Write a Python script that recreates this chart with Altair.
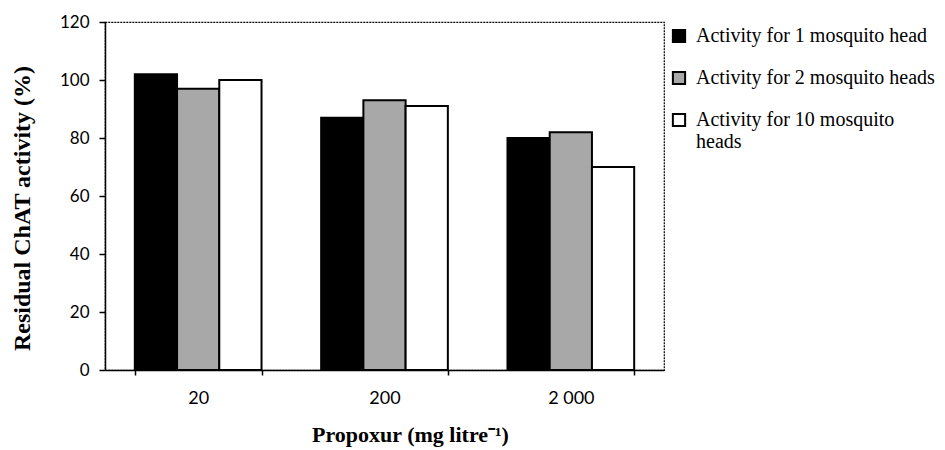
import altair as alt
import pandas as pd

concentrations = ["20", "200", "2 000"]
series = ["Activity for 1 mosquito head", "Activity for 2 mosquito heads", "Activity for 10 mosquito heads"]
one_head = [102, 87, 80]
two_heads = [97, 93, 82]
ten_heads = [100, 91, 70]
colors = ["#000000", "#a8a8a8", "#ffffff"]
y_ticks = [0, 20, 40, 60, 80, 100, 120]

rows = []
for i, c in enumerate(concentrations):
    for s, vals in zip(series, [one_head, two_heads, ten_heads]):
        rows.append({"conc": c, "series": s, "value": vals[i]})
df = pd.DataFrame(rows)

label_expr = "datum.label == 'Activity for 10 mosquito heads' ? ['Activity for 10 mosquito', 'heads'] : datum.label"

chart = alt.Chart(df).mark_bar(stroke="black", strokeWidth=2).encode(
    x=alt.X("conc:N", sort=concentrations,
            scale=alt.Scale(paddingInner=0.32, paddingOuter=0.16),
            axis=alt.Axis(title="Propoxur (mg litre⁻¹)", labelAngle=0, tickBand="extent",
                          domainColor="black", domainWidth=1.5, tickColor="black", tickSize=5,
                          tickWidth=1.5, labelFont="Lato", labelFontSize=18, labelColor="black",
                          labelPadding=14, titleFont="Liberation Serif", titleFontSize=22,
                          titleFontWeight="bold", titleColor="black", titleX=305, titleY=64,
                          titleBaseline="middle", titleAlign="center")),
    xOffset=alt.XOffset("series:N", sort=series, scale=alt.Scale(paddingInner=0, paddingOuter=0)),
    y=alt.Y("value:Q", scale=alt.Scale(domain=[0, 120], nice=False),
            axis=alt.Axis(values=y_ticks, title="Residual ChAT activity (%)", grid=False,
                          domainColor="black", domainWidth=1.5, tickColor="black", tickSize=6,
                          tickWidth=1.5, labelFont="Lato", labelFontSize=17, labelColor="black",
                          labelPadding=10, titleFont="Liberation Serif", titleFontSize=24,
                          titleFontWeight="bold", titleColor="black", titleX=-83, titleY=186,
                          titleAngle=-90, titleBaseline="middle", titleAlign="center")),
    fill=alt.Fill("series:N", sort=series, scale=alt.Scale(domain=series, range=colors),
                  legend=alt.Legend(title=None, orient="none", legendX=564, legendY=4, padding=0,
                                    symbolType="square", symbolSize=150, symbolStrokeColor="black",
                                    symbolStrokeWidth=2, labelFont="Liberation Serif",
                                    labelFontSize=20, labelColor="black", labelOffset=7,
                                    labelLimit=400, rowPadding=20, labelExpr=label_expr)),
).properties(
    width=559, height=348,
    autosize=alt.AutoSizeParams(type="none"),
    padding={"left": 97, "top": 14, "right": 272, "bottom": 78},
).configure_view(stroke="black", strokeDash=[2, 1], strokeWidth=1.2)

chart.save("out.html", embed_options={"renderer": "svg", "actions": False})
